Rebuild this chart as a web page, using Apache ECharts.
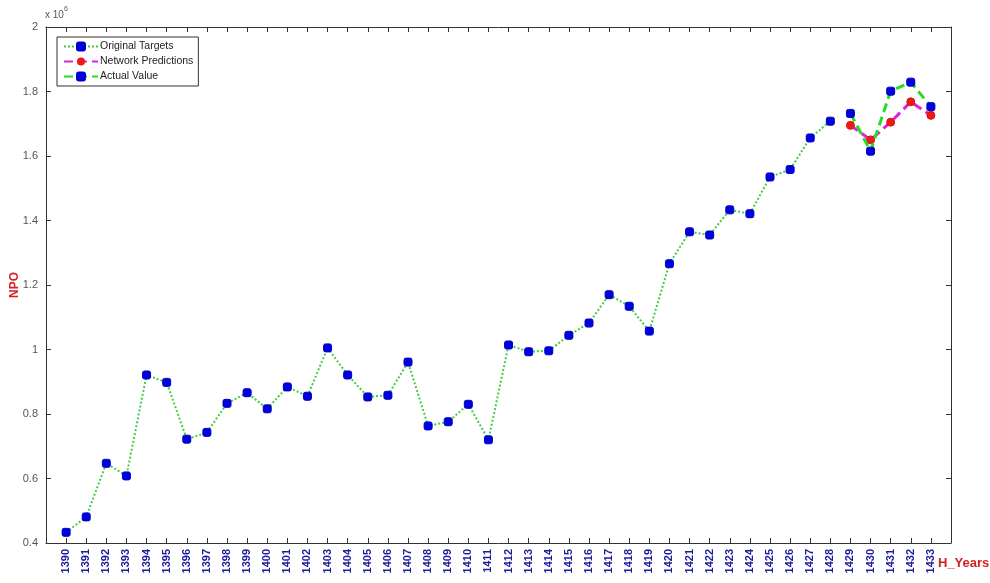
<!doctype html>
<html lang="en">
  <head>
    <meta charset="UTF-8" />
    <title>NPO by H_Years</title>
    <script src="https://fastly.jsdelivr.net/npm/echarts@6/dist/echarts.min.js"></script>
    <style type="text/css">
      * {
        margin: 0;
        padding: 0;
      }
      html,
      body,
      #chart {
        width: 990px;
        height: 583px;
        overflow: hidden;
        background: #fff;
      }
    </style>
  </head>
  <body>
    <div id="chart"></div>
  </body>
  <script>
    // NPO values in units of 10^6
    const targetYears = [
      1390, 1391, 1392, 1393, 1394, 1395, 1396, 1397, 1398, 1399, 1400, 1401, 1402,
      1403, 1404, 1405, 1406, 1407, 1408, 1409, 1410, 1411, 1412, 1413, 1414, 1415,
      1416, 1417, 1418, 1419, 1420, 1421, 1422, 1423, 1424, 1425, 1426, 1427, 1428,
    ];
    const originalTargets = [
      0.433, 0.481, 0.647, 0.608, 0.921, 0.898, 0.722, 0.743, 0.833, 0.866, 0.816,
      0.884, 0.855, 1.005, 0.921, 0.853, 0.858, 0.961, 0.763, 0.776, 0.830, 0.720,
      1.014, 0.993, 0.996, 1.044, 1.082, 1.170, 1.134, 1.057, 1.266, 1.365, 1.355,
      1.433, 1.421, 1.535, 1.558, 1.656, 1.708,
    ];
    const testYears = [1429, 1430, 1431, 1432, 1433];
    const networkPredictions = [1.695, 1.650, 1.705, 1.768, 1.726];
    const actualValues = [1.732, 1.615, 1.801, 1.829, 1.753];
    const yTicks = [0.4, 0.6, 0.8, 1, 1.2, 1.4, 1.6, 1.8, 2];

    const pairs = (xs, ys) => xs.map((x, i) => [x, ys[i]]);

    const blueMarker = { color: '#0000dd', borderColor: '#0000cc', borderWidth: 1 };
    const chart = echarts.init(document.getElementById('chart'), null, { renderer: 'canvas' });

    const xCommon = {
      type: 'value',
      min: 1389,
      max: 1434,
      interval: 1,
      splitLine: { show: false },
      axisLine: { lineStyle: { color: '#333', width: 1 } },
      axisTick: { inside: true, length: 5, lineStyle: { color: '#333' } },
    };
    const yCommon = {
      type: 'value',
      min: yTicks[0],
      max: yTicks[yTicks.length - 1],
      interval: 0.2,
      splitLine: { show: false },
      axisLine: { show: true, lineStyle: { color: '#333', width: 1 } },
      axisTick: { show: true, inside: true, length: 5, lineStyle: { color: '#333' } },
    };

    const option = {
      backgroundColor: '#fff',
      animation: false,
      grid: { left: 46, right: 39, top: 27, bottom: 40, containLabel: false, outerBoundsMode: 'none' },
      legend: {
        orient: 'vertical',
        left: 57,
        top: 37,
        padding: [4, 5, 4, 6],
        itemWidth: 34,
        itemHeight: 10,
        itemGap: 4,
        borderColor: '#333',
        borderWidth: 1,
        backgroundColor: '#fff',
        textStyle: { fontFamily: 'Liberation Sans', fontSize: 10.5, color: '#222', padding: [0, 0, 0, -3] },
        data: ['Original Targets', 'Network Predictions', 'Actual Value'],
      },
      xAxis: [
        Object.assign({}, xCommon, {
          position: 'bottom',
          axisLabel: {
            rotate: 90,
            margin: 6,
            color: '#1c1c9c',
            fontFamily: 'Liberation Sans',
            fontWeight: 'bold',
            fontSize: 11,
            formatter: (v) => (v < 1390 || v > 1433 ? '' : String(v)),
          },
        }),
        Object.assign({}, xCommon, { position: 'top', axisLabel: { show: false } }),
      ],
      yAxis: [
        Object.assign({}, yCommon, {
          position: 'left',
          name: 'NPO',
          nameLocation: 'middle',
          nameRotate: 90,
          nameGap: 25,
          nameMoveOverlap: false,
          nameTextStyle: { color: '#d42020', fontFamily: 'Liberation Sans', fontWeight: 'bold', fontSize: 12 },
          axisLabel: {
            margin: 8,
            color: '#555',
            fontFamily: 'Liberation Sans',
            fontSize: 11,
            formatter: (v) => String(Math.round(v * 10) / 10),
          },
        }),
        Object.assign({}, yCommon, { position: 'right', axisLabel: { show: false } }),
      ],
      graphic: [
        {
          type: 'text',
          left: 45,
          top: 6,
          style: {
            text: '{a|x 10}{b|6}',
            rich: {
              a: { fontFamily: 'Liberation Sans', fontSize: 10, fill: '#555', padding: [4, 0, 0, 0] },
              b: { fontFamily: 'Liberation Sans', fontSize: 7, fill: '#555', verticalAlign: 'top' },
            },
          },
        },
        {
          type: 'text',
          left: 938,
          top: 557,
          style: {
            text: 'H_Years',
            fill: '#d42020',
            font: 'bold 13px "Liberation Sans"',
          },
        },
      ],
      series: [
        {
          name: 'Original Targets',
          type: 'line',
          data: pairs(targetYears, originalTargets),
          symbol: 'roundRect',
          symbolSize: 8,
          itemStyle: blueMarker,
          lineStyle: { color: '#44cc44', width: 2, type: [2, 2] },
          z: 2,
        },
        {
          name: 'Network Predictions',
          type: 'line',
          data: pairs(testYears, networkPredictions),
          symbol: 'circle',
          symbolSize: 8,
          itemStyle: { color: '#ee1818', borderColor: '#dd1010' },
          lineStyle: { color: '#e020e0', width: 3, type: [9, 5] },
          z: 3,
        },
        {
          name: 'Actual Value',
          type: 'line',
          data: pairs(testYears, actualValues),
          symbol: 'roundRect',
          symbolSize: 8,
          itemStyle: blueMarker,
          lineStyle: { color: '#22dd22', width: 3, type: [9, 5] },
          z: 4,
        },
      ],
    };
    chart.setOption(option);
  </script>
</html>
